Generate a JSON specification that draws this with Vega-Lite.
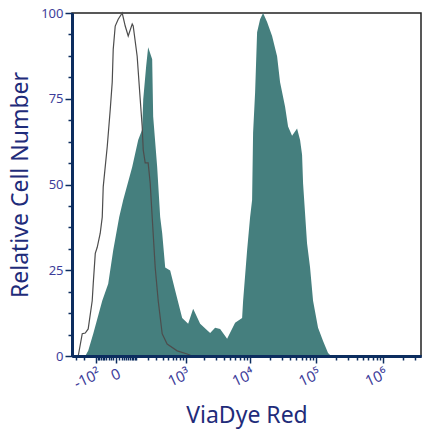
{
  "$schema": "https://vega.github.io/schema/vega-lite/v6.json",
  "width": 349,
  "height": 343,
  "autosize": {"type": "none"},
  "padding": {"left": 72, "top": 13, "right": 1, "bottom": 74},
  "background": "white",
  "config": {"view": {"stroke": "#222222", "strokeWidth": 1.5}, "font": "Noto Sans"},
  "datasets": {
    "stained": [
      {"x": -191, "y": 0}, {"x": -163, "y": 1.5}, {"x": -121, "y": 6.5}, {"x": -62, "y": 16.1},
      {"x": -31.8, "y": 21.1}, {"x": -10.9, "y": 30.8}, {"x": 10.9, "y": 40.5}, {"x": 27.3, "y": 45.5},
      {"x": 73.6, "y": 55.1}, {"x": 113.5, "y": 63.0}, {"x": 145, "y": 66.0}, {"x": 154, "y": 74.8},
      {"x": 181, "y": 84.5}, {"x": 201, "y": 90.0}, {"x": 246, "y": 86.5}, {"x": 258, "y": 69.8},
      {"x": 311, "y": 55.1}, {"x": 356, "y": 40.5}, {"x": 389, "y": 35.8}, {"x": 442, "y": 25.8},
      {"x": 544, "y": 24.9}, {"x": 665, "y": 19.1}, {"x": 874, "y": 11.1}, {"x": 1097, "y": 9.4},
      {"x": 1323, "y": 13.8}, {"x": 1711, "y": 9.4}, {"x": 2457, "y": 6.7}, {"x": 2938, "y": 8.2},
      {"x": 3510, "y": 7.9}, {"x": 4495, "y": 5.0}, {"x": 5955, "y": 9.7}, {"x": 7608, "y": 11.1},
      {"x": 7879, "y": 16.1}, {"x": 9060, "y": 30.8}, {"x": 10060, "y": 40.5}, {"x": 10780, "y": 45.5},
      {"x": 11160, "y": 65.1}, {"x": 11970, "y": 76.8}, {"x": 12830, "y": 94.4}, {"x": 14240, "y": 98.2},
      {"x": 15800, "y": 100}, {"x": 18150, "y": 97.4}, {"x": 21590, "y": 93.3}, {"x": 25670, "y": 87.4},
      {"x": 28480, "y": 79.8}, {"x": 33860, "y": 72.7}, {"x": 37560, "y": 66.9}, {"x": 43140, "y": 64.2},
      {"x": 51270, "y": 66.3}, {"x": 56870, "y": 63.0}, {"x": 60940, "y": 58.7}, {"x": 63080, "y": 50.4},
      {"x": 72430, "y": 32.8}, {"x": 80340, "y": 25.8}, {"x": 89100, "y": 16.1}, {"x": 105880, "y": 8.2},
      {"x": 125840, "y": 4.4}, {"x": 149500, "y": 0.9}, {"x": 165800, "y": 0}
    ],
    "control": [
      {"x": -271, "y": 0}, {"x": -223, "y": 6.5}, {"x": -191, "y": 6.7}, {"x": -163, "y": 7.9},
      {"x": -129, "y": 16.1}, {"x": -121, "y": 21.1}, {"x": -106, "y": 29.9}, {"x": -92.6, "y": 31.7},
      {"x": -73.6, "y": 35.8}, {"x": -62, "y": 40.5}, {"x": -56.6, "y": 49.3}, {"x": -36.4, "y": 61.0},
      {"x": -23, "y": 71.8}, {"x": -14.8, "y": 79.8}, {"x": -10.9, "y": 89.4}, {"x": -3.5, "y": 96.2},
      {"x": 7.1, "y": 98.2}, {"x": 23, "y": 100}, {"x": 36.4, "y": 96.2}, {"x": 51.3, "y": 93.3},
      {"x": 73.6, "y": 96.8}, {"x": 79.7, "y": 96.2}, {"x": 106, "y": 87.4}, {"x": 129, "y": 74.8},
      {"x": 145, "y": 66.9}, {"x": 154, "y": 60.1}, {"x": 171.8, "y": 56.3}, {"x": 201, "y": 56.3},
      {"x": 223, "y": 50.4}, {"x": 246, "y": 40.5}, {"x": 284, "y": 25.8}, {"x": 326, "y": 16.1},
      {"x": 389, "y": 6.5}, {"x": 480, "y": 3.5}, {"x": 719, "y": 1.5}, {"x": 1057, "y": 0.6},
      {"x": 1275, "y": 0}
    ]
  },
  "resolve": {"axis": {"x": "independent", "y": "independent"}},
  "layer": [
    {
      "data": {"name": "stained"},
      "mark": {"type": "area", "color": "#457f7e", "opacity": 1},
      "encoding": {
        "x": {
          "field": "x", "type": "quantitative",
          "scale": {"type": "symlog", "constant": 100, "domain": [-360, 3700000], "nice": false, "zero": false},
          "axis": {
            "orient": "bottom",
            "values": [-300, -200, -90, -80, -70, -60, -50, -40, -30, -20, -10, 10, 20, 30, 40, 50, 60, 70, 80, 90, 100, 200, 300, 400, 500, 600, 700, 800, 900, 2000, 3000, 4000, 5000, 6000, 7000, 8000, 9000, 20000, 30000, 40000, 50000, 60000, 70000, 80000, 90000, 200000, 300000, 400000, 500000, 600000, 700000, 800000, 900000, 2000000, 3000000],
            "labels": false, "tickSize": 4,
            "tickColor": "#0c2d5f", "tickWidth": 1.5,
            "domainColor": "#0c2d5f", "domainWidth": 3,
            "grid": false, "zindex": 1, "title": null
          }
        },
        "y": {
          "field": "y", "type": "quantitative", "stack": null,
          "scale": {"domain": [0, 100], "nice": false},
          "axis": {
            "orient": "left",
            "values": [6.25, 12.5, 18.75, 31.25, 37.5, 43.75, 56.25, 62.5, 68.75, 81.25, 87.5, 93.75],
            "labels": false, "tickSize": 4,
            "tickColor": "#0c2d5f", "tickWidth": 1.5,
            "domainColor": "#0c2d5f", "domainWidth": 3,
            "grid": false, "zindex": 1, "title": null
          }
        }
      }
    },
    {
      "data": {"name": "control"},
      "mark": {"type": "line", "color": "#4d4d4d", "strokeWidth": 1.2},
      "encoding": {
        "x": {
          "field": "x", "type": "quantitative",
          "axis": {
            "orient": "bottom",
            "values": [-100, 0, 1000, 10000, 100000, 1000000],
            "labelExpr": "datum.value == -100 ? '-10²' : datum.value == 0 ? '0' : datum.value == 1000 ? '10³' : datum.value == 10000 ? '10⁴' : datum.value == 100000 ? '10⁵' : '10⁶'",
            "labelAngle": -25, "labelAlign": "right", "labelBaseline": "top",
            "labelFontSize": 15, "labelColor": "#3d3d9a", "labelPadding": 3,
            "labelOverlap": false, "labelFlush": false, "labelBound": false,
            "tickSize": 7, "tickColor": "#0c2d5f", "tickWidth": 1.5,
            "domainColor": "#0c2d5f", "domainWidth": 3,
            "grid": false, "zindex": 1,
            "title": "ViaDye Red", "titleFontSize": 23, "titleFontWeight": "normal", "titleColor": "#1f2c7a", "titlePadding": 13
          }
        },
        "y": {
          "field": "y", "type": "quantitative",
          "axis": {
            "orient": "left",
            "values": [0, 25, 50, 75, 100],
            "tickSize": 7, "tickColor": "#0c2d5f", "tickWidth": 1.5,
            "domainColor": "#0c2d5f", "domainWidth": 3,
            "labelColor": "#3d3d9a", "labelFontSize": 13, "labelPadding": 2, "labelOverlap": false, "labelFlush": false,
            "grid": false, "zindex": 1,
            "title": "Relative Cell Number", "titleFontSize": 23, "titleFontWeight": "normal", "titleColor": "#1f2c7a", "titlePadding": 8
          }
        }
      }
    }
  ]
}
